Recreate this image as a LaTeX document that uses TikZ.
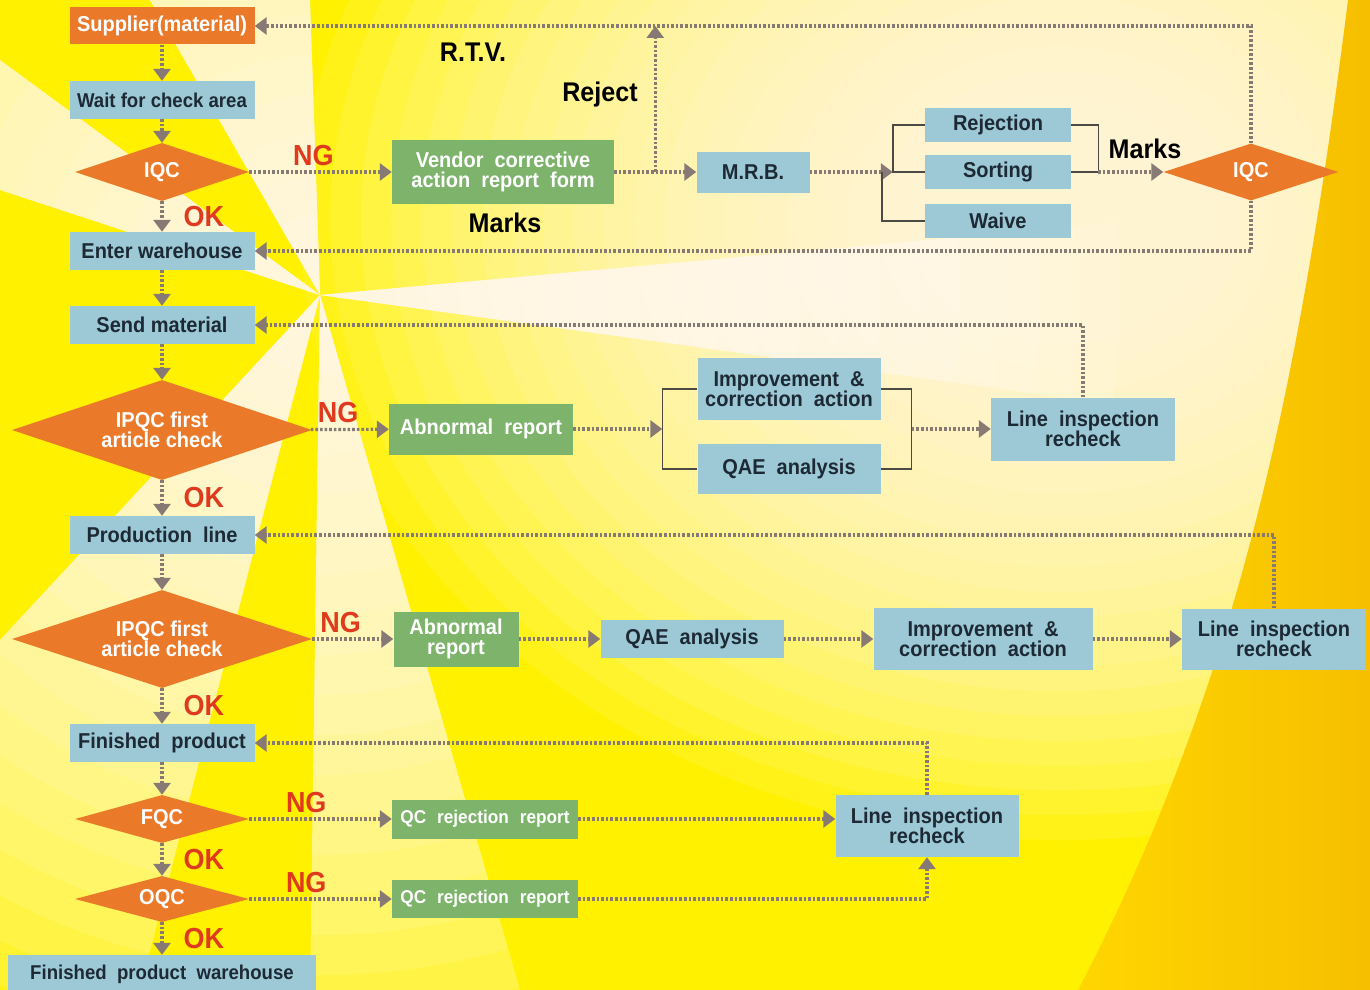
\documentclass[tikz,border=0pt]{standalone}
\usepackage{fontspec}
\setmainfont{Liberation Sans}[FakeStretch=0.93]
\usetikzlibrary{arrows.meta,shapes.geometric,positioning,calc}

\definecolor{bgyellow}{HTML}{FFF100}
\definecolor{bgcream}{HTML}{FFFDF0}
\definecolor{bggoldA}{HTML}{FFD600}
\definecolor{bggoldB}{HTML}{F6BF00}
\definecolor{boxblue}{HTML}{9DC9D6}
\definecolor{boxgreen}{HTML}{7DB36B}
\definecolor{boxorange}{HTML}{EA7A2A}
\definecolor{textdark}{HTML}{1D2A35}
\definecolor{flowgray}{HTML}{877A74}
\definecolor{bracketgray}{HTML}{4D4A45}
\definecolor{ngred}{HTML}{E03A1E}

\newcommand\boxfont{\bfseries\fontsize{21.5}{20.5}\selectfont}
\newcommand\tightfont{\bfseries\fontsize{20}{20}\selectfont}
\newcommand\smallboxfont{\bfseries\fontsize{18.5}{20}\selectfont}
\newcommand\flagfont{\bfseries\fontsize{29}{30}\selectfont}
\newcommand\notefont{\bfseries\fontsize{27}{28}\selectfont}

\tikzset{
  sz/.style 2 args={minimum width=#1pt, minimum height=#2pt},
  base/.style={rectangle, inner sep=0pt, align=center, font=\boxfont},
  spaced/.style={execute at begin node={\spaceskip=11pt plus 2pt\relax}},
  bluebox/.style={base, fill=boxblue, text=textdark},
  greenbox/.style={base, fill=boxgreen, text=white},
  orangebox/.style={base, fill=boxorange, text=white},
  decision/.style={diamond, aspect=3, inner sep=0pt, fill=boxorange, text=white, align=center, font=\boxfont},
  flow/.style={draw=flowgray, line width=3.2pt, dash pattern=on 2.6pt off 2pt, -{Triangle[width=17pt,length=12pt]}},
  bracket/.style={draw=bracketgray, line width=1.4pt},
  nglabel/.style={text=ngred, font=\flagfont, inner sep=0pt},
  notelabel/.style={text=black, font=\notefont, inner sep=0pt}
}

\begin{document}
\begin{tikzpicture}[x=1pt,y=-1pt]
\useasboundingbox (0,0) rectangle (1370,990);
\begin{scope}
\clip (0,0) rectangle (1370,990);
\fill[bgyellow] (0,0) rectangle (1370,990);
\foreach \r in {5,...,25}
 \fill[bgcream, opacity=.1] (1060,220) ellipse ({30.4*\r} and {24.8*\r});
\foreach \ray in {{(150,0) -- (310,0)}, {(0,60) -- (0,190)}, {(0,640) -- (0,990) -- (140,990)}, {(310,990) -- (520,990)}, {(1370,200) -- (1370,440)}}
 {\begin{scope}
  \clip (320,295) -- \ray -- cycle;
  \foreach \r in {1,...,20}
   \fill[white, opacity=.1] (320,295) circle ({40*\r});
 \end{scope}}
\shade[left color=bggoldA, right color=bggoldB] (1348,0) .. controls (1300,380) and (1240,680) .. (1078,990) -- (1370,990) -- (1370,0) -- cycle;
\end{scope}

\node[orangebox, sz={185}{37}] (sup) at (162,26) {Supplier(material)};
\node[bluebox, font=\tightfont, sz={185}{38}] (wait) at (162,100) {Wait for check area};
\node[decision, sz={174}{58}] (iqc) at (162,172) {IQC};
\node[bluebox, sz={185}{38}] (enter) at (162,251) {Enter warehouse};
\node[bluebox, sz={185}{38}] (send) at (162,325) {Send material};
\node[decision, sz={300}{100}] (ipqca) at (162,430) {IPQC first\\article check};
\node[bluebox, spaced, sz={185}{38}] (prod) at (162,535) {Production line};
\node[decision, sz={300}{98}] (ipqcb) at (162,639) {IPQC first\\article check};
\node[bluebox, spaced, sz={185}{38}] (fin) at (162,743) {Finished product};
\node[decision, sz={174}{48}] (fqc) at (162,819) {FQC};
\node[decision, sz={174}{46}] (oqc) at (162,899) {OQC};
\node[bluebox, font=\tightfont, sz={308}{38}] (fpw) at (162,974) {Finished\ \ product\ \ warehouse};

\node[greenbox, spaced, sz={222}{64}] (vend) at (503,172) {Vendor corrective\\action report form};
\node[bluebox, sz={113}{41}] (mrb) at (753,172) {M.R.B.};
\node[bluebox, sz={146}{34}] (rej) at (998,125) {Rejection};
\node[bluebox, sz={146}{34}] (sort) at (998,172) {Sorting};
\node[bluebox, sz={146}{34}] (waive) at (998,221) {Waive};
\node[decision, sz={175}{57}] (iqcr) at (1251,172) {IQC};

\node[greenbox, spaced, sz={184}{51}] (abna) at (481,429) {Abnormal report};
\node[bluebox, spaced, sz={183}{62}] (impra) at (789,389) {Improvement \&\\correction action};
\node[bluebox, spaced, sz={183}{50}] (qaea) at (789,469) {QAE analysis};
\node[bluebox, spaced, sz={184}{63}] (lira) at (1083,429) {Line inspection\\recheck};

\node[greenbox, spaced, sz={125}{55}] (abnb) at (456,639) {Abnormal\\report};
\node[bluebox, spaced, sz={183}{38}] (qaeb) at (692,639) {QAE analysis};
\node[bluebox, spaced, sz={219}{62}] (imprb) at (983,639) {Improvement \&\\correction action};
\node[bluebox, spaced, sz={184}{61}] (lirb) at (1274,639) {Line inspection\\recheck};

\node[greenbox, spaced, font=\smallboxfont, sz={186}{39}] (qcra) at (485,819) {QC rejection report};
\node[bluebox, spaced, sz={183}{62}] (lirc) at (927,826) {Line inspection\\recheck};
\node[greenbox, spaced, font=\smallboxfont, sz={186}{38}] (qcrb) at (485,899) {QC rejection report};

\node[notelabel] (rtv) at (473,52) {R.T.V.};
\node[notelabel] (reject) at (600,95) {Reject};
\node[notelabel] (marka) at (505,223) {Marks};
\node[notelabel] (markb) at (1145,149) {Marks};

\foreach \a/\b in {sup/wait, wait/iqc, enter/send, send/ipqca, prod/ipqcb, fin/fqc}
 \draw[flow] (\a) -- (\b);
\foreach \a/\b in {iqc/enter, ipqca/prod, ipqcb/fin, fqc/oqc, oqc/fpw}
 \draw[flow] (\a) -- node[nglabel, right=20pt]{OK} (\b);

\draw[flow] (iqc) -- node[nglabel, above=5pt, pos=.45]{NG} (vend);
\draw[flow] (vend) -- (mrb);
\coordinate (rj) at ($(vend.east)!.5!(mrb.west)$);
\draw[flow] (rj) -- (rj |- sup.east);
\coordinate (mj) at ($(sort.west)+(-32,0)$);
\draw[flow] (mrb) -- (mj);
\draw[bracket] (rej.west) -| (mj) -- (sort.west);
\draw[bracket] (waive.west) -| ($(mj)+(-11,0)$);
\coordinate (mk) at ($(sort.east)+(27,0)$);
\draw[bracket] (rej.east) -| (mk) -- (sort.east);
\draw[flow] (mk) -- (iqcr);
\draw[flow] (iqcr.north) |- (sup.east);
\draw[flow] (iqcr.south) |- (enter.east);

\draw[flow] (ipqca) -- node[nglabel, above=5pt, pos=.35]{NG} (abna);
\coordinate (aj) at ($(impra.west |- abna)+(-35,0)$);
\draw[flow] (abna) -- (aj);
\draw[bracket] (impra.west) -| (aj) |- (qaea.west);
\coordinate (ak) at ($(impra.east |- abna)+(31,0)$);
\draw[bracket] (impra.east) -| (ak) |- (qaea.east);
\draw[flow] (ak) -- (lira);
\draw[flow] (lira.north) |- (send.east);

\draw[flow] (ipqcb) -- node[nglabel, above=5pt, pos=.35]{NG} (abnb);
\foreach \a/\b in {abnb/qaeb, qaeb/imprb, imprb/lirb}
 \draw[flow] (\a) -- (\b);
\draw[flow] (lirb.north) |- (prod.east);

\draw[flow] (fqc) -- node[nglabel, above=5pt, pos=.4]{NG} (qcra);
\draw[flow] (qcra) -- (qcra -| lirc.west);
\draw[flow] (lirc.north) |- (fin.east);
\draw[flow] (oqc) -- node[nglabel, above=5pt, pos=.4]{NG} (qcrb);
\draw[flow] (qcrb) -| (lirc.south);
\end{tikzpicture}
\end{document}
